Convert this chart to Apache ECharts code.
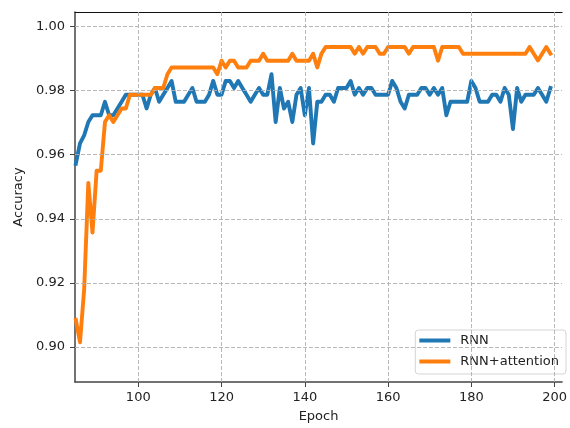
<!DOCTYPE html>
<html>
<head>
<meta charset="utf-8">
<script src="https://cdn.jsdelivr.net/npm/echarts@6/dist/echarts.min.js"></script>
<style>
  html, body { margin: 0; padding: 0; background: #fff; }
  #chart { width: 570px; height: 428px; }
</style>
</head>
<body>
<div id="chart"></div>
<script>
// ---- data ----
const firstEpoch = 85;
const seriesNames = ['RNN', 'RNN+attention'];
const rnn = [
  0.9572, 0.9635, 0.9660, 0.9702, 0.9723, 0.9723, 0.9723, 0.9765, 0.9723, 0.9723, // 85-94
  0.9744, 0.9765, 0.9787, 0.9787, 0.9787, 0.9787, 0.9787, 0.9744, 0.9787, 0.9808, // 95-104
  0.9765, 0.9787, 0.9808, 0.9830, 0.9765, 0.9765, 0.9765, 0.9787, 0.9808, 0.9765, // 105-114
  0.9765, 0.9765, 0.9787, 0.9830, 0.9787, 0.9787, 0.9830, 0.9830, 0.9808, 0.9830, // 115-124
  0.9808, 0.9787, 0.9765, 0.9787, 0.9808, 0.9787, 0.9787, 0.9851, 0.9702, 0.9808, // 125-134
  0.9744, 0.9765, 0.9702, 0.9787, 0.9808, 0.9723, 0.9808, 0.9635, 0.9765, 0.9765, // 135-144
  0.9787, 0.9787, 0.9765, 0.9808, 0.9808, 0.9808, 0.9830, 0.9787, 0.9808, 0.9787, // 145-154
  0.9808, 0.9808, 0.9787, 0.9787, 0.9787, 0.9787, 0.9830, 0.9808, 0.9765, 0.9744, // 155-164
  0.9787, 0.9787, 0.9787, 0.9808, 0.9808, 0.9787, 0.9808, 0.9787, 0.9808, 0.9723, // 165-174
  0.9765, 0.9765, 0.9765, 0.9765, 0.9765, 0.9830, 0.9808, 0.9765, 0.9765, 0.9765, // 175-184
  0.9787, 0.9787, 0.9765, 0.9808, 0.9787, 0.9680, 0.9808, 0.9765, 0.9787, 0.9787, // 185-194
  0.9787, 0.9808, 0.9787, 0.9765, 0.9808                                          // 195-199
];
const rnnAttention = [
  0.9085, 0.9015, 0.9180, 0.9512, 0.9357, 0.9550, 0.9550, 0.9702, 0.9723, 0.9702, // 85-94
  0.9723, 0.9744, 0.9744, 0.9787, 0.9787, 0.9787, 0.9787, 0.9787, 0.9787, 0.9808, // 95-104
  0.9808, 0.9808, 0.9851, 0.9872, 0.9872, 0.9872, 0.9872, 0.9872, 0.9872, 0.9872, // 105-114
  0.9872, 0.9872, 0.9872, 0.9872, 0.9851, 0.9893, 0.9872, 0.9893, 0.9893, 0.9872, // 115-124
  0.9872, 0.9872, 0.9893, 0.9893, 0.9893, 0.9915, 0.9893, 0.9893, 0.9893, 0.9893, // 125-134
  0.9893, 0.9893, 0.9915, 0.9893, 0.9893, 0.9893, 0.9893, 0.9915, 0.9872, 0.9915, // 135-144
  0.9936, 0.9936, 0.9936, 0.9936, 0.9936, 0.9936, 0.9936, 0.9915, 0.9936, 0.9915, // 145-154
  0.9936, 0.9936, 0.9936, 0.9915, 0.9915, 0.9936, 0.9936, 0.9936, 0.9936, 0.9936, // 155-164
  0.9915, 0.9936, 0.9936, 0.9936, 0.9936, 0.9936, 0.9936, 0.9893, 0.9936, 0.9936, // 165-174
  0.9936, 0.9936, 0.9936, 0.9915, 0.9915, 0.9915, 0.9915, 0.9915, 0.9915, 0.9915, // 175-184
  0.9915, 0.9915, 0.9915, 0.9915, 0.9915, 0.9915, 0.9915, 0.9915, 0.9915, 0.9936, // 185-194
  0.9915, 0.9894, 0.9915, 0.9936, 0.9915                                          // 195-199
];
const xTicks = [100, 120, 140, 160, 180, 200];
const yTicks = [0.90, 0.92, 0.94, 0.96, 0.98, 1.00];
const xName = 'Epoch';
const yName = 'Accuracy';

// ---- build ----
const toPairs = arr => arr.map((v, i) => [firstEpoch + i, v]);
const colors = ['#1f77b4', '#ff7f0e'];
const textColor = '#222';
const font = 'DejaVu Sans';

const chart = echarts.init(document.getElementById('chart'), null, { renderer: 'canvas' });
const X_MIN = 84.8, X_MAX = 201.8, Y_MIN = 0.8891, Y_MAX = 1.0045;

chart.setOption({
  animation: false,
  backgroundColor: '#fff',
  textStyle: { fontFamily: font },
  grid: { left: 75, right: 0, top: 12, bottom: 46, containLabel: false },
  xAxis: [{
    type: 'value', min: X_MIN, max: X_MAX, position: 'bottom',
    name: xName, nameLocation: 'middle', nameGap: 28,
    nameTextStyle: { fontSize: 13, color: textColor, fontFamily: font },
    axisLine: { show: true, onZero: false, lineStyle: { color: '#444', width: 1.5 } },
    axisTick: { show: true, length: 5, customValues: xTicks, lineStyle: { color: '#444', width: 1 } },
    axisLabel: { customValues: xTicks, fontSize: 13, color: textColor, margin: 9, fontFamily: font },
    splitLine: { show: false }
  }, {
    type: 'value', min: X_MIN, max: X_MAX, position: 'top',
    axisLine: { show: true, onZero: false, lineStyle: { color: '#111', width: 1 } },
    axisTick: { show: false }, axisLabel: { show: false }, splitLine: { show: false }
  }],
  yAxis: {
    type: 'value', min: Y_MIN, max: Y_MAX,
    name: yName, nameLocation: 'middle', nameGap: 46, nameRotate: 90,
    nameTextStyle: { fontSize: 13, color: textColor, fontFamily: font },
    axisLine: { show: true, onZero: false, lineStyle: { color: '#444', width: 1.5 } },
    axisTick: { show: true, length: 5, customValues: yTicks, lineStyle: { color: '#444', width: 1 } },
    axisLabel: { customValues: yTicks, fontSize: 13, color: textColor, margin: 10, fontFamily: font,
                 formatter: v => v.toFixed(2) },
    splitLine: { show: false }
  },
  legend: {
    orient: 'vertical', top: 330, right: 4,
    padding: [3, 7, 5, 4], itemGap: 6, itemWidth: 31, itemHeight: 4,
    backgroundColor: 'rgba(255,255,255,0.8)', borderColor: '#d5d5d5', borderWidth: 1, borderRadius: 3,
    textStyle: { fontSize: 13, color: textColor, lineHeight: 15, fontFamily: font, padding: [0, 0, 0, 5] },
    data: [{ name: seriesNames[0], icon: 'rect' }, { name: seriesNames[1], icon: 'rect' }]
  },
  series: [{
    type: 'line', data: [], silent: true, z: 1,
    markLine: {
      silent: true, symbol: ['none', 'none'], label: { show: false }, animation: false,
      lineStyle: { type: [4, 2], color: '#b0b0b0', width: 0.9 },
      emphasis: { disabled: true },
      data: xTicks.map(v => ({ xAxis: v })).concat(yTicks.map(v => ({ yAxis: v })))
    }
  }, {
    name: seriesNames[0], type: 'line', data: toPairs(rnn), z: 3,
    showSymbol: false, symbol: 'none', color: colors[0],
    lineStyle: { width: 3.9, color: colors[0], cap: 'square', join: 'round' }
  }, {
    name: seriesNames[1], type: 'line', data: toPairs(rnnAttention), z: 4,
    showSymbol: false, symbol: 'none', color: colors[1],
    lineStyle: { width: 3.9, color: colors[1], cap: 'square', join: 'round' }
  }]
});
</script>
</body>
</html>
